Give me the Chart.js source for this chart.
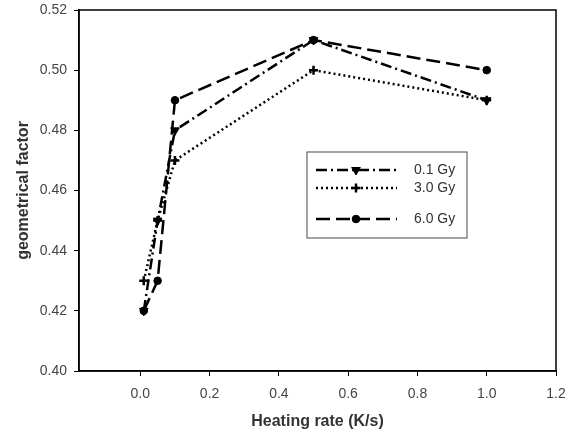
<!DOCTYPE html>
<html>
<head>
<meta charset="utf-8">
<script src="https://cdn.jsdelivr.net/npm/chart.js@4"></script>
<style>
html,body{margin:0;padding:0;background:#fff;}
#wrap{width:574px;height:436px;}
</style>
</head>
<body>
<div id="wrap"><canvas id="c" width="574" height="436"></canvas></div>
<script>
const seriesLabels = ['0.1 Gy', '3.0 Gy', '6.0 Gy'];
const heatingRate = [0.01, 0.05, 0.1, 0.5, 1.0];
const gy01 = [0.42, 0.45, 0.48, 0.51, 0.49];
const gy30 = [0.43, 0.45, 0.47, 0.50, 0.49];
const gy60 = [0.42, 0.43, 0.49, 0.51, 0.50];
const xTicks = [0.0, 0.2, 0.4, 0.6, 0.8, 1.0, 1.2];
const yTicks = [0.40, 0.42, 0.44, 0.46, 0.48, 0.50, 0.52];

const FONT = '"Liberation Sans", Arial, sans-serif';
const styles = [
  {dash:[11,4,2,4], point:'triangle', rot:180, r:5},
  {dash:[2,3], point:'cross', rot:0, r:4.5},
  {dash:[14,6], point:'circle', rot:0, r:3.8}
];
const seriesVals = [gy01, gy30, gy60];

const datasets = seriesVals.map((vals, i) => ({
  label: seriesLabels[i],
  data: heatingRate.map((x, j) => ({x: x, y: vals[j]})),
  borderColor: '#000',
  backgroundColor: '#000',
  pointBackgroundColor: '#000',
  pointBorderColor: '#000',
  borderWidth: 2.5,
  borderDash: styles[i].dash,
  pointStyle: styles[i].point,
  pointRotation: styles[i].rot,
  pointRadius: styles[i].r,
  pointBorderWidth: i === 1 ? 2.5 : 1,
  tension: 0,
  fill: false
}));

const frameAndLegend = {
  id: 'frameAndLegend',
  afterDatasetsDraw(chart) {
    const ctx = chart.ctx;
    const a = chart.chartArea;
    ctx.save();
    ctx.strokeStyle = '#000';
    ctx.lineWidth = 1.5;
    ctx.setLineDash([]);
    ctx.strokeRect(a.left, a.top, a.right - a.left, a.bottom - a.top);
    // legend box
    const bx = 307, by = 152, bw = 160, bh = 86;
    ctx.fillStyle = '#fff';
    ctx.fillRect(bx, by, bw, bh);
    ctx.strokeStyle = '#666';
    ctx.lineWidth = 1.2;
    ctx.strokeRect(bx, by, bw, bh);
    const rowsY = [170, 188, 219];
    chart.data.datasets.forEach((ds, i) => {
      const y = rowsY[i];
      ctx.strokeStyle = '#000';
      ctx.lineWidth = 2.5;
      ctx.setLineDash(ds.borderDash);
      ctx.beginPath();
      ctx.moveTo(316, y);
      ctx.lineTo(397, y);
      ctx.stroke();
      ctx.setLineDash([]);
      ctx.fillStyle = '#000';
      ctx.lineWidth = ds.pointBorderWidth;
      Chart.helpers.drawPoint(ctx, {
        pointStyle: ds.pointStyle, rotation: ds.pointRotation,
        radius: ds.pointRadius, borderWidth: ds.pointBorderWidth
      }, 356, y);
      ctx.fillStyle = '#333';
      ctx.font = '14px ' + FONT;
      ctx.textBaseline = 'middle';
      ctx.textAlign = 'left';
      ctx.fillText(ds.label, 414, y);
    });
    ctx.restore();
  }
};

new Chart(document.getElementById('c'), {
  type: 'line',
  data: { datasets: datasets },
  options: {
    responsive: false,
    animation: false,
    devicePixelRatio: 1,
    layout: { padding: { top: 10, right: 18, left: 0, bottom: 0 } },
    plugins: { legend: { display: false }, tooltip: { enabled: false } },
    scales: {
      x: {
        type: 'linear',
        min: -0.177, max: 1.2,
        afterBuildTicks: s => { s.ticks = xTicks.map(v => ({value: v})); },
        afterFit: s => { s.height = 65; s.paddingLeft = 0; s.paddingRight = 0; },
        grid: { drawOnChartArea: false, drawTicks: true, tickLength: 5, color: '#000', lineWidth: 1 },
        border: { display: true, color: '#000', width: 1.5 },
        ticks: { color: '#444', font: { family: FONT, size: 14 }, padding: 10,
                 callback: v => v.toFixed(1) },
        title: { display: true, text: 'Heating rate (K/s)', color: '#333',
                 font: { family: FONT, size: 16, weight: 'bold' }, padding: { top: 6, bottom: 5 } }
      },
      y: {
        type: 'linear',
        min: 0.40, max: 0.52,
        afterBuildTicks: s => { s.ticks = yTicks.map(v => ({value: v})); },
        afterFit: s => { s.width = 79; s.paddingTop = 0; s.paddingBottom = 0; },
        grid: { drawOnChartArea: false, drawTicks: true, tickLength: 5, color: '#000', lineWidth: 1 },
        border: { display: true, color: '#000', width: 1.5 },
        ticks: { color: '#444', font: { family: FONT, size: 14, lineHeight: 1 }, padding: 7,
                 callback: v => v.toFixed(2) },
        title: { display: true, text: 'geometrical factor', color: '#333',
                 font: { family: FONT, size: 16, weight: 'bold' }, padding: { top: 14, bottom: 4 } }
      }
    }
  },
  plugins: [frameAndLegend]
});
</script>
</body>
</html>
